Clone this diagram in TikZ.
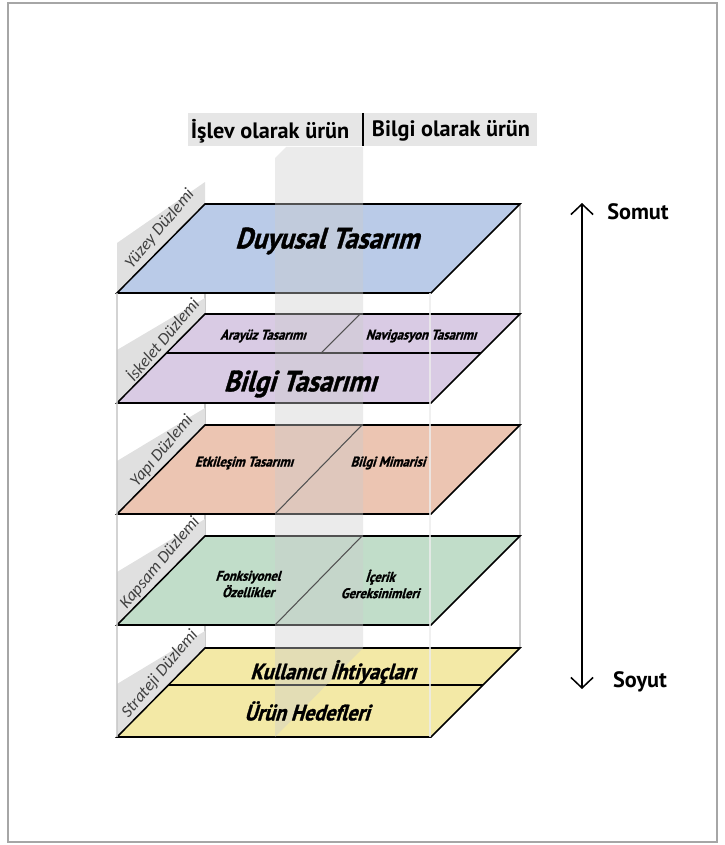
\documentclass[tikz,border=0pt]{standalone}
\usepackage{fontspec}
\setmainfont{PT Sans}
\newfontfamily\planefont{PT Sans}[FakeSlant=0.3,FakeStretch=0.9,FakeBold=1.2]
\newfontfamily\sidefont{Carlito}
\usetikzlibrary{arrows.meta,positioning}
\definecolor{surfaceblue}{RGB}{186,203,232}
\definecolor{skeletonlilac}{RGB}{217,203,228}
\definecolor{structuresalmon}{RGB}{236,197,178}
\definecolor{scopemint}{RGB}{193,221,201}
\definecolor{strategyyellow}{RGB}{243,233,166}
\definecolor{framegray}{RGB}{200,200,200}
\definecolor{panelgray}{RGB}{224,224,224}
\definecolor{headergray}{RGB}{230,230,230}

\begin{document}
\begin{tikzpicture}[x=0.03cm, y=-0.03cm,
    plane/.style={draw=black, line width=1.3pt, line join=miter},
    split/.style={draw=black, line width=0.9pt},
    edge/.style={draw=framegray, line width=1.6pt},
    panel/.style={fill=panelgray},
    big/.style={font=\planefont\bfseries\fontsize{25}{28}\selectfont},
    mid/.style={font=\planefont\bfseries\fontsize{19}{22}\selectfont},
    small/.style={font=\planefont\bfseries\fontsize{12}{14}\selectfont, align=center},
    side/.style={font=\sidefont\itshape\fontsize{14.5}{16}\selectfont, text=black!75, rotate=50},
    head/.style={font=\bfseries\fontsize{19}{22}\selectfont}]
  \useasboundingbox (0,0) rectangle (724,845);
  \draw[gray!70, line width=1.2pt] (8,3) rectangle (717,842);

  % back edges of the box
  \draw[edge] (205,204) -- (205,648);
  \draw[edge] (520,204) -- (520,648);

  % side panels
  \fill[panel] (117,293) -- (117,243) -- (205,182) -- (205,204) -- cycle;
  \fill[panel] (117,403) -- (117,350) -- (205,298) -- (205,314) -- cycle;
  \fill[panel] (117,514) -- (117,461) -- (205,408) -- (205,425) -- cycle;
  \fill[panel] (117,625) -- (117,572) -- (205,519) -- (205,536) -- cycle;
  \fill[panel] (117,737) -- (117,684) -- (205,631) -- (205,648) -- cycle;

  % planes
  \filldraw[plane, fill=surfaceblue] (205,204) -- (520,204) -- (431,293) -- (117,293) -- cycle;
  \filldraw[plane, fill=skeletonlilac] (205,314) -- (520,314) -- (431,403) -- (117,403) -- cycle;
  \filldraw[plane, fill=structuresalmon] (205,425) -- (520,425) -- (431,514) -- (117,514) -- cycle;
  \filldraw[plane, fill=scopemint] (205,536) -- (520,536) -- (431,625) -- (117,625) -- cycle;
  \filldraw[plane, fill=strategyyellow] (205,648) -- (520,648) -- (431,737) -- (117,737) -- cycle;

  \draw[split] (167,353) -- (481,353);
  \draw[split] (360,314) -- (321,353);
  \draw[split] (362,425) -- (275,514);
  \draw[split] (362,536) -- (275,625);
  \draw[split] (169,685) -- (483,685);

  % front edges of the box
  \draw[edge, draw opacity=0.8] (117,293) -- (117,737);
  \draw[edge, draw=white!85!gray, draw opacity=0.8] (430,293) -- (430,737);

  % the vertical divide
  \fill[black!20, opacity=0.4] (275,158) -- (286,147) -- (363,147) -- (363,648) -- (275,737) -- cycle;

  % header
  \fill[headergray] (188,113) rectangle (537,146);
  \draw[line width=1.2pt] (363,113) -- (363,146);
  \node[head] (func) at (270,131) {İşlev olarak ürün};
  \node[head] (info) at (451,131) {Bilgi olarak ürün};

  % plane texts
  \node[big] (surf) at (327,241) {Duyusal Tasarım};
  \node[small] (iface) at (263,336) {Arayüz Tasarımı};
  \node[small] (navi) at (421,336) {Navigasyon Tasarımı};
  \node[big] (infod) at (300,384) {Bilgi Tasarımı};
  \node[small] (inter) at (244,463) {Etkileşim Tasarımı};
  \node[small] (arch) at (388,463) {Bilgi Mimarisi};
  \node[small] (func2) at (248,584) {Fonksiyonel\\Özellikler};
  \node[small] (cont) at (380,584) {İçerik\\Gereksinimleri};
  \node[mid] (user) at (333,672) {Kullanıcı İhtiyaçları};
  \node[mid] (goal) at (307,711) {Ürün Hedefleri};

  % side labels
  \node[side] (l1) at (160,229) {Yüzey Düzlemi};
  \node[side] (l2) at (162,339) {İskelet Düzlemi};
  \node[side] (l3) at (162,451) {Yapı Düzlemi};
  \node[side] (l4) at (160,563) {Kapsam Düzlemi};
  \node[side] (l5) at (160,674) {Strateji Düzlemi};

  % concrete / abstract
  \coordinate (up) at (582,203);
  \coordinate (down) at (582,689);
  \draw[{Straight Barb[length=9pt,width=19pt]}-{Straight Barb[length=9pt,width=19pt]}, line width=1.3pt] (up) -- (down);
  \node[head] (conc) at (638,212) {Somut};
  \node[head] (abst) at (640,682) {Soyut};
\end{tikzpicture}
\end{document}
